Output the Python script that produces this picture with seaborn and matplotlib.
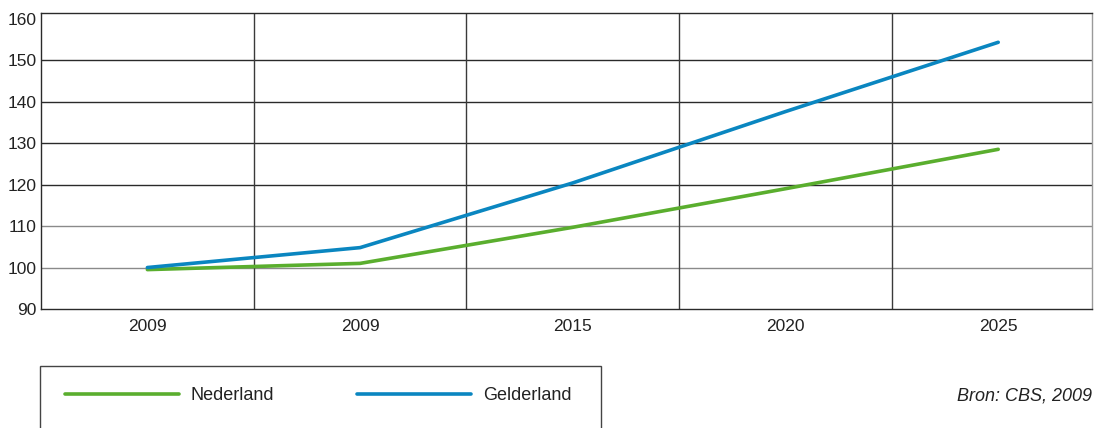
import pandas as pd
import seaborn as sns
import matplotlib.pyplot as plt
from matplotlib.patches import Rectangle

# data (index, first year = 100)
jaren = ["2009", "2009", "2015", "2020", "2025"]
nederland = [99.5, 101.0, 109.7, 119.0, 128.5]
gelderland = [100.0, 104.8, 120.4, 137.6, 154.3]
y_ticks = [90, 100, 110, 120, 130, 140, 150, 160]

kleuren = {"Nederland": "#5aae2e", "Gelderland": "#0a86c0"}

rows = []
for i, jaar in enumerate(jaren):
    rows.append({"pos": i, "waarde": nederland[i], "regio": "Nederland"})
    rows.append({"pos": i, "waarde": gelderland[i], "regio": "Gelderland"})
df = pd.DataFrame(rows)

sns.set_style("white")
plt.rcParams["font.family"] = ["Liberation Sans", "DejaVu Sans"]
txt = "#222222"

fig = plt.figure(figsize=(10.94, 4.28), dpi=100)
ax = fig.add_axes([0.0375, 0.278, 0.9605, 0.692])

sns.lineplot(data=df, x="pos", y="waarde", hue="regio", palette=kleuren,
             linewidth=2.6, ax=ax, legend=False)

ax.set_xlim(-0.5, 4.44)
ax.set_ylim(90, 161.4)
ax.set_yticks(y_ticks)
ax.set_xticks(range(len(jaren)))
ax.set_xticklabels(jaren)
ax.set_xlabel("")
ax.set_ylabel("")
ax.tick_params(axis="both", length=0, labelsize=12.5, colors=txt)
ax.tick_params(axis="y", pad=3)
ax.tick_params(axis="x", pad=7)

# grid: horizontal at the inner ticks, vertical between the categories
for y in y_ticks[1:-1]:
    c = "#8a8a8a" if y in (100, 110) else "#2a2a2a"
    ax.axhline(y, color=c, linewidth=1.0, zorder=0)
for x in [i + 0.5 for i in range(len(jaren) - 1)]:
    ax.axvline(x, color="#3a3a3a", linewidth=1.0, zorder=0)

for side in ["left", "bottom", "top"]:
    ax.spines[side].set_color("#2a2a2a")
    ax.spines[side].set_linewidth(1.0)
ax.spines["right"].set_color("#9a9a9a")
ax.spines["right"].set_linewidth(1.0)

# legend box below the chart (runs off the bottom edge)
fig.add_artist(Rectangle((40 / 1094, -0.05), (601 - 40) / 1094, 1 - 366 / 428 + 0.05,
                         transform=fig.transFigure, facecolor="none",
                         edgecolor="#444444", linewidth=1.0))
handles = [plt.Line2D([], [], color=kleuren[k], linewidth=2.6) for k in kleuren]
fig.legend(handles, list(kleuren), loc="center left",
           bbox_to_anchor=(65 / 1094, 1 - 396 / 428), ncol=2, frameon=False,
           borderpad=0, borderaxespad=0,
           handlelength=6.3, handletextpad=0.67, columnspacing=4.6,
           fontsize=13, labelcolor=txt)

fig.text(1092 / 1094, 1 - 396 / 428, "Bron: CBS, 2009", fontsize=13,
         style="italic", color=txt, ha="right", va="center")

fig.savefig("out.png", dpi=100)
